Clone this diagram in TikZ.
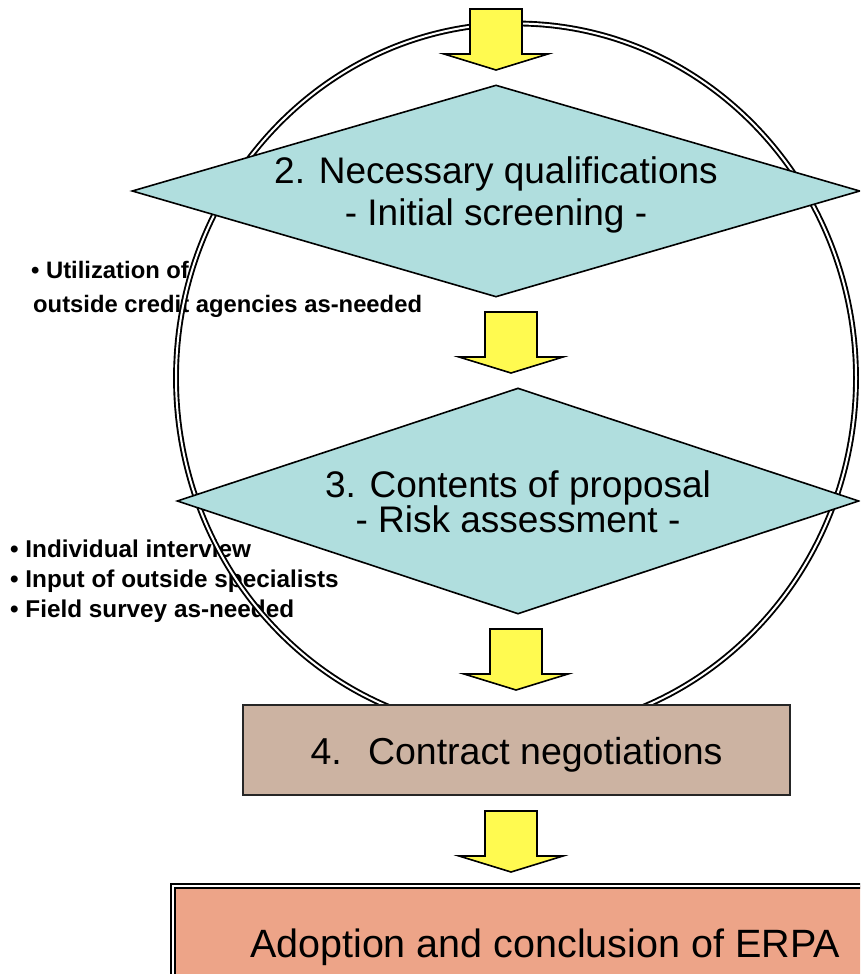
\documentclass[tikz,border=0pt]{standalone}
\usepackage{fontspec}
\setmainfont{Liberation Sans}
\usetikzlibrary{shapes.geometric}

\definecolor{stagefill}{RGB}{176,222,222}
\definecolor{arrowfill}{RGB}{255,250,80}
\definecolor{contractfill}{RGB}{204,179,162}
\definecolor{erpafill}{RGB}{237,164,136}

\tikzset{
  note/.style={anchor=base west, inner sep=0pt,
    font=\bfseries\fontsize{23.8}{28}\selectfont},
  lownote/.style={note, font=\bfseries\fontsize{24.3}{28}\selectfont},
  ring/.style={ellipse, inner sep=0pt, minimum width=680pt, minimum height=709pt,
    draw=black, line width=1.9pt, double=white, double distance=2pt},
  stage/.style={diamond, inner sep=0pt, draw=black, line width=1.6pt, fill=stagefill},
  stagetext/.style={align=center, inner sep=0pt,
    font=\fontsize{37}{42}\selectfont},
  blockarrow/.style={draw=black, line width=1.6pt, fill=arrowfill, line join=miter},
  contract/.style={rectangle, inner sep=0pt, draw=black!85, line width=1.6pt,
    fill=contractfill, minimum width=547pt, minimum height=90pt},
  boxtext/.style={inner sep=0pt, font=\fontsize{37.5}{42}\selectfont},
  erpa/.style={rectangle, inner sep=0pt, fill=erpafill, draw=black,
    line width=2.2pt, double=white, double distance=2pt,
    minimum width=744pt, minimum height=114pt},
  erpatext/.style={inner sep=0pt, font=\fontsize{39.5}{42}\selectfont}
}

% downward block arrow: #1 name, #2 centre x, #3 top y
\newcommand\flowarrow[3]{%
  \coordinate (#1) at (#2,#3);
  \draw[blockarrow, shift={(#1)}]
    (-26,0) -- (26,0) -- (26,45) -- (52,45) -- (0,61) -- (-52,45) -- (-26,45) -- cycle;
}

\begin{document}
\begin{tikzpicture}[x=1pt,y=-1pt]
  \useasboundingbox (0,0) rectangle (860,974);
  \clip (0,0) rectangle (860,974);

  % side notes
  \node[note] (n1) at (31,278) {• Utilization of};
  \node[note] (n2) at (33,312) {outside credit agencies as-needed};
  \node[lownote] (n3) at (10,557) {• Individual interview};
  \node[lownote] (n4) at (10,587) {• Input of outside specialists};
  \node[lownote] (n5) at (10,617) {• Field survey as-needed};

  % screening loop
  \node[ring] (loop) at (516,378) {};

  % stages
  \node[stage, minimum width=728pt, minimum height=212pt] (s2) at (496,191) {};
  \node[stagetext] (t2) at ([yshift=-3.5pt]s2.center) {2. Necessary qualifications\\- Initial screening -};
  \node[stage, minimum width=682pt, minimum height=226pt] (s3) at (518,501) {};
  \node[stagetext] (t3) at ([yshift=-0.5pt]s3.center) {3. Contents of proposal\\[-7pt]- Risk assessment -};

  % flow arrows
  \flowarrow{a1}{496}{9}
  \flowarrow{a2}{511}{312}
  \flowarrow{a3}{516}{629}
  \flowarrow{a4}{511}{811}

  % final steps
  \node[contract] (s4) at (516.5,750) {};
  \node[boxtext] (t4) at ([yshift=-5pt]s4.center) {4.\hspace{0.7em}Contract negotiations};
  \node[erpa] (s5) at (545,943) {};
  \node[erpatext] (t5) at ([yshift=-4pt]s5.center) {Adoption and conclusion of ERPA};
\end{tikzpicture}
\end{document}
